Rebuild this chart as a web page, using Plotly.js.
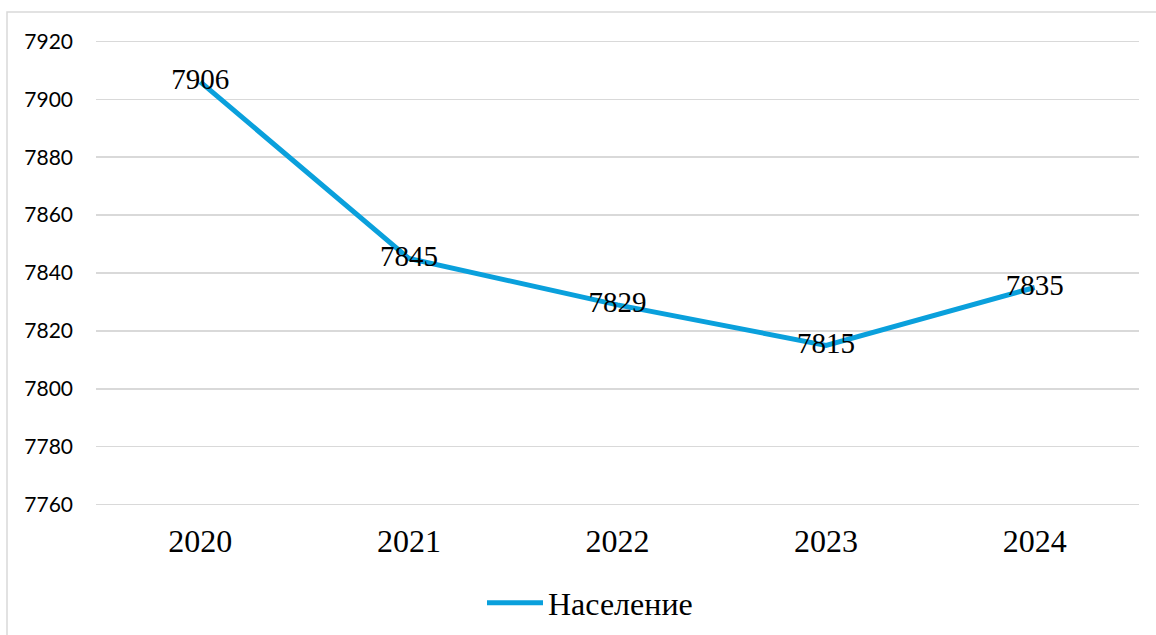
<!DOCTYPE html>
<html>
<head>
<meta charset="utf-8">
<script src="https://cdn.plot.ly/plotly-3.0.1.min.js"></script>
<style>
html,body{margin:0;padding:0;background:#fff;overflow:hidden;}
#chart{width:1156px;height:635px;}
</style>
</head>
<body>
<div id="chart"></div>
<script>
const years = ['2020', '2021', '2022', '2023', '2024'];
const population = [7906, 7845, 7829, 7815, 7835];
const yTicks = [7760, 7780, 7800, 7820, 7840, 7860, 7880, 7900, 7920];
const seriesName = 'Население';

const W = 1156, H = 635;
const mL = 96, mR = 17, mT = 37, mB = 126;
const pw = W - mL - mR, ph = H - mT - mB;
const px = v => (v - mL) / pw;
const py = v => (H - mB - v) / ph;

const trace = {
  x: years,
  y: population,
  type: 'scatter',
  mode: 'lines+text',
  name: seriesName,
  text: population.map(String),
  textposition: 'middle center',
  textfont: {family: 'Liberation Serif, Times New Roman, serif', size: 29, color: '#000'},
  line: {color: '#0aa0dc', width: 5},
  cliponaxis: false,
  hoverinfo: 'x+y'
};

const layout = {
  width: W, height: H,
  margin: {l: mL, r: mR, t: mT, b: mB, autoexpand: false},
  paper_bgcolor: '#fff',
  plot_bgcolor: '#fff',
  showlegend: true,
  xaxis: {
    type: 'category',
    range: [-0.5, 4.5],
    showgrid: false,
    zeroline: false,
    showline: false,
    ticks: '',
    tickfont: {family: 'Liberation Serif, Times New Roman, serif', size: 32, color: '#000'},
    ticklabelstandoff: 10
  },
  yaxis: {
    range: [7758.5, 7921.5],
    tickvals: yTicks,
    ticktext: yTicks.map(String),
    showgrid: true,
    gridcolor: '#d9d9d9',
    gridwidth: 1.5,
    zeroline: false,
    showline: false,
    ticks: '',
    tickfont: {family: 'Lato, Liberation Sans, sans-serif', size: 21, color: '#000'},
    ticklabelstandoff: 22
  },
  legend: {
    orientation: 'h',
    x: px(482), xanchor: 'left',
    y: py(603), yanchor: 'middle',
    itemwidth: 56,
    font: {family: 'Liberation Serif, Times New Roman, serif', size: 32, color: '#000'},
    bgcolor: 'rgba(0,0,0,0)'
  },
  shapes: [{
    type: 'rect', xref: 'paper', yref: 'paper',
    x0: px(7), x1: px(1300), y0: py(800), y1: py(12),
    line: {color: '#d9d9d9', width: 1.5},
    fillcolor: 'rgba(0,0,0,0)',
    layer: 'below'
  }]
};

Plotly.newPlot('chart', [trace], layout, {displayModeBar: false, staticPlot: true});
</script>
</body>
</html>
